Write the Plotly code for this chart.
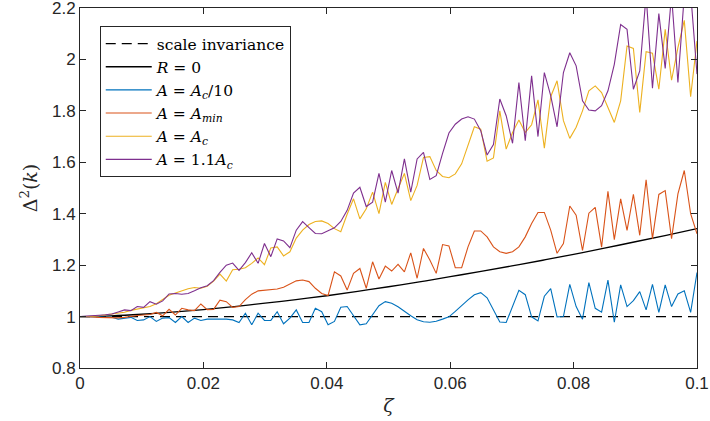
import numpy as np
import plotly.graph_objects as go

# ---------------- data ----------------
zeta = np.linspace(0.0, 0.1, 98)

si_x = [0.0, 0.1]
si_y = [1.0, 1.0]

r0_x = [0.000, 0.005, 0.010, 0.015, 0.020, 0.025, 0.030, 0.035, 0.040, 0.045, 0.050,
        0.055, 0.060, 0.065, 0.070, 0.075, 0.080, 0.085, 0.090, 0.095, 0.100]
r0_y = [1.000, 1.003, 1.009, 1.017, 1.027, 1.039, 1.052, 1.066, 1.081, 1.098, 1.116,
        1.135, 1.155, 1.176, 1.197, 1.219, 1.242, 1.266, 1.291, 1.316, 1.342]

a_c10 = [1.000, 1.000, 0.999, 0.999, 0.997, 0.997, 0.990, 0.994, 0.997, 0.985,
         0.987, 1.000, 0.981, 0.994, 0.996, 0.977, 1.000, 0.977, 0.994, 0.985,
         0.990, 0.990, 0.990, 0.990, 0.987, 0.977, 1.013, 0.968, 1.013, 0.985,
         0.985, 1.019, 0.972, 0.994, 1.026, 0.977, 0.977, 1.032, 1.019, 0.968,
         0.981, 1.036, 1.039, 1.003, 0.968, 0.972, 1.008, 1.042, 1.058, 1.052,
         1.038, 1.020, 1.003, 0.988, 0.980, 0.978, 0.982, 0.990, 0.999, 1.020,
         1.043, 1.065, 1.085, 1.093, 1.073, 1.025, 0.979, 0.977, 1.040, 1.102,
         1.085, 0.999, 0.983, 1.079, 1.109, 0.999, 1.000, 1.125, 1.039, 0.990,
         1.132, 1.032, 1.017, 1.142, 0.978, 1.123, 1.039, 1.062, 1.097, 1.026,
         1.125, 1.016, 1.123, 1.039, 1.088, 1.100, 1.016, 1.171]

a_min = [1.000, 1.000, 0.999, 0.997, 0.996, 0.995, 0.995, 0.997, 1.002, 1.004,
         1.006, 1.008, 1.016, 1.003, 1.028, 1.006, 1.032, 1.026, 1.023, 1.049,
         1.027, 1.028, 1.064, 1.058, 1.036, 1.039, 1.066, 1.087, 1.100, 1.103,
         1.104, 1.107, 1.114, 1.128, 1.139, 1.142, 1.136, 1.110, 1.090, 1.082,
         1.174, 1.158, 1.103, 1.168, 1.187, 1.110, 1.213, 1.146, 1.196, 1.177,
         1.203, 1.174, 1.248, 1.149, 1.265, 1.220, 1.168, 1.280, 1.275, 1.190,
         1.190, 1.271, 1.333, 1.333, 1.310, 1.271, 1.252, 1.246, 1.252, 1.271,
         1.310, 1.362, 1.405, 1.405, 1.336, 1.246, 1.284, 1.430, 1.394, 1.257,
         1.402, 1.425, 1.270, 1.487, 1.299, 1.458, 1.335, 1.475, 1.316, 1.532,
         1.303, 1.475, 1.490, 1.303, 1.477, 1.568, 1.400, 1.322]

a_c = [1.000, 1.000, 1.001, 1.003, 1.006, 1.010, 1.013, 1.017, 1.024, 1.029,
       1.032, 1.039, 1.050, 1.068, 1.083, 1.092, 1.101, 1.108, 1.113, 1.110,
       1.118, 1.138, 1.165, 1.138, 1.182, 1.184, 1.190, 1.207, 1.228, 1.202,
       1.267, 1.271, 1.236, 1.252, 1.305, 1.336, 1.358, 1.370, 1.372, 1.362,
       1.342, 1.330, 1.398, 1.458, 1.380, 1.419, 1.484, 1.400, 1.522, 1.436,
       1.497, 1.557, 1.451, 1.510, 1.619, 1.622, 1.568, 1.545, 1.540, 1.555,
       1.594, 1.665, 1.738, 1.729, 1.604, 1.617, 1.800, 1.651, 1.716, 1.764,
       1.716, 1.746, 1.843, 1.655, 1.855, 1.917, 1.762, 1.693, 1.736, 1.800,
       1.878, 1.897, 1.871, 1.813, 1.755, 1.839, 2.052, 2.043, 1.794, 2.030,
       2.024, 1.884, 2.117, 1.919, 2.046, 2.152, 1.855, 2.072]

a_11c = [1.000, 1.001, 1.003, 1.005, 1.007, 1.010, 1.018, 1.026, 1.023, 1.039,
         1.036, 1.058, 1.048, 1.061, 1.088, 1.090, 1.087, 1.090, 1.100, 1.112,
         1.120, 1.140, 1.172, 1.200, 1.208, 1.180, 1.210, 1.248, 1.207, 1.284,
         1.233, 1.302, 1.294, 1.268, 1.336, 1.369, 1.346, 1.323, 1.322, 1.332,
         1.345, 1.370, 1.413, 1.480, 1.503, 1.428, 1.445, 1.557, 1.445, 1.568,
         1.480, 1.613, 1.484, 1.613, 1.639, 1.533, 1.548, 1.635, 1.714, 1.748,
         1.768, 1.777, 1.768, 1.723, 1.628, 1.669, 1.846, 1.781, 1.674, 1.910,
         1.684, 1.936, 1.700, 1.949, 1.859, 1.738, 1.949, 2.026, 1.975, 1.839,
         1.803, 1.800, 1.820, 1.878, 1.981, 2.136, 2.117, 1.884, 1.955, 2.250,
         1.888, 2.178, 1.965, 2.250, 1.910, 2.250, 2.260, 1.943]

x_ticks = [0, 0.02, 0.04, 0.06, 0.08, 0.1]
x_tick_labels = ["0", "0.02", "0.04", "0.06", "0.08", "0.1"]
y_ticks = [0.8, 1.0, 1.2, 1.4, 1.6, 1.8, 2.0, 2.2]
y_tick_labels = ["0.8", "1", "1.2", "1.4", "1.6", "1.8", "2", "2.2"]

# ---------------- figure ----------------
AX = "#262626"
SERIF = "DejaVu Serif, Liberation Serif, serif"
SANS = "Liberation Sans, Arial, sans-serif"

fig = go.Figure()
fig.add_trace(go.Scatter(x=si_x, y=si_y, mode="lines", name="scale invariance",
                         line=dict(color="black", width=1.2, dash="10px,6px")))
fig.add_trace(go.Scatter(x=r0_x, y=r0_y, mode="lines", name="<i>R</i> = 0",
                         line=dict(color="black", width=1.3, shape="spline")))
fig.add_trace(go.Scatter(x=zeta, y=a_c10, mode="lines",
                         name="<i>A</i> = <i>A<sub>c</sub></i>/10",
                         line=dict(color="#0072BD", width=1.1)))
fig.add_trace(go.Scatter(x=zeta, y=a_min, mode="lines",
                         name="<i>A</i> = <i>A</i><sub><i>min</i></sub>",
                         line=dict(color="#D95319", width=1.1)))
fig.add_trace(go.Scatter(x=zeta, y=a_c, mode="lines",
                         name="<i>A</i> = <i>A<sub>c</sub></i>",
                         line=dict(color="#EDB120", width=1.1)))
fig.add_trace(go.Scatter(x=zeta, y=a_11c, mode="lines",
                         name="<i>A</i> = 1.1<i>A<sub>c</sub></i>",
                         line=dict(color="#7E2F8E", width=1.1)))

fig.update_layout(
    width=710, height=421,
    margin=dict(l=80, r=13, t=8, b=53),
    plot_bgcolor="white", paper_bgcolor="white",
    showlegend=True,
    legend=dict(x=0.032, y=0.95, xanchor="left", yanchor="top",
                bgcolor="white", bordercolor=AX, borderwidth=1,
                font=dict(family=SERIF, size=15.5, color="black"),
                itemwidth=46, tracegroupgap=0),
    xaxis=dict(range=[0, 0.1], tickvals=x_ticks, ticktext=x_tick_labels,
               ticks="inside", ticklen=6, tickcolor=AX, showline=True,
               linecolor=AX, linewidth=1, mirror="ticks", showgrid=False,
               zeroline=False, tickfont=dict(family=SANS, size=17, color=AX),
               ticklabeloverflow="allow", automargin=False,
               title=dict(text="<i>ζ</i>", font=dict(family=SERIF, size=19, color=AX),
                          standoff=6)),
    yaxis=dict(range=[0.8, 2.2], tickvals=y_ticks, ticktext=y_tick_labels,
               ticks="inside", ticklen=6, tickcolor=AX, showline=True,
               linecolor=AX, linewidth=1, mirror="ticks", showgrid=False,
               zeroline=False, tickfont=dict(family=SANS, size=17, color=AX),
               ticklabeloverflow="allow", automargin=False,
               title=dict(text="Δ<sup>2</sup>(<i>k</i>)",
                          font=dict(family=SERIF, size=19, color=AX), standoff=9)),
)

fig.write_html("out.html")
